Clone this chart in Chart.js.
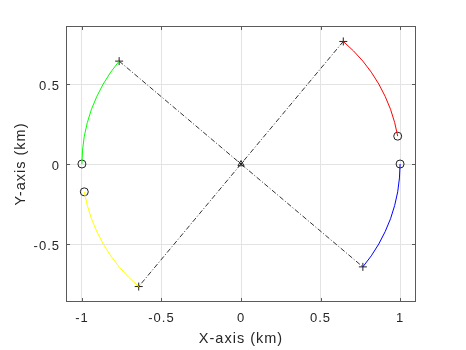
<!DOCTYPE html>
<html>
<head>
<meta charset="utf-8">
<script src="https://cdn.jsdelivr.net/npm/chart.js@4.4.1/dist/chart.umd.min.js"></script>
<style>
html,body{margin:0;padding:0;background:#fff;}
#wrap{width:466px;height:350px;}
</style>
</head>
<body>
<div id="wrap"><canvas id="c" width="466" height="350"></canvas></div>
<script>
// ---- data ----
const xTicks = [-1, -0.5, 0, 0.5, 1];
const yTicks = [-0.5, 0, 0.5];
const xRange = [-1.1, 1.1];
const yRange = [-0.8625, 0.8625];

const redArc = [[0.985,0.174],[0.966,0.259],[0.940,0.342],[0.906,0.423],[0.866,0.500],[0.819,0.574],[0.766,0.643],[0.707,0.707],[0.643,0.766]];
const blueArc = [[1.000,0.000],[0.996,-0.087],[0.985,-0.174],[0.966,-0.259],[0.940,-0.342],[0.906,-0.423],[0.866,-0.500],[0.819,-0.574],[0.766,-0.643]];
const greenArc = [[-1.000,0.000],[-0.996,0.087],[-0.985,0.174],[-0.966,0.259],[-0.940,0.342],[-0.906,0.423],[-0.866,0.500],[-0.819,0.574],[-0.766,0.643]];
const yellowArc = [[-0.985,-0.174],[-0.966,-0.259],[-0.940,-0.342],[-0.906,-0.423],[-0.866,-0.500],[-0.819,-0.574],[-0.766,-0.643],[-0.707,-0.707],[-0.643,-0.766]];
const diagA = [[0.643,0.766],[0,0],[-0.643,-0.766]];
const diagB = [[-0.766,0.643],[0,0],[0.766,-0.643]];
const startPts = [[0.985,0.174],[1.000,0.000],[-1.000,0.000],[-0.985,-0.174]];
const endPts = [[0.643,0.766],[0.766,-0.643],[-0.766,0.643],[-0.643,-0.766]];
const centerPt = [[0,0]];

const toXY = a => a.map(p => ({x:p[0], y:p[1]}));
const FONT = '"Liberation Sans", Arial, Helvetica, sans-serif';
const TXT = '#262626';

const spacingPlugin = {
  id: 'spacing',
  beforeUpdate(chart) { chart.ctx.letterSpacing = '1px'; },
  beforeDraw(chart) { chart.ctx.letterSpacing = '1px'; }
};

const boxPlugin = {
  id: 'box',
  afterDraw(chart) {
    const {ctx, chartArea:{left,right,top,bottom}, scales:{x,y}} = chart;
    ctx.save();
    ctx.strokeStyle = '#5a5a5a';
    ctx.lineWidth = 1;
    const L = Math.round(left)+0.5, R = Math.round(right)-0.5, T = Math.round(top)+0.5, B = Math.round(bottom)-0.5;
    ctx.strokeRect(L, T, R-L, B-T);
    const tl = 3.5;
    ctx.beginPath();
    xTicks.forEach(v => {
      const px = Math.round(x.getPixelForValue(v))+0.5;
      ctx.moveTo(px, B); ctx.lineTo(px, B-tl);
      ctx.moveTo(px, T); ctx.lineTo(px, T+tl);
    });
    yTicks.forEach(v => {
      const py = Math.round(y.getPixelForValue(v))+0.5;
      ctx.moveTo(L, py); ctx.lineTo(L+tl, py);
      ctx.moveTo(R, py); ctx.lineTo(R-tl, py);
    });
    ctx.stroke();
    ctx.restore();
  }
};

const lineDs = (pts, color, dash) => ({
  data: toXY(pts), showLine: true, borderColor: color, borderWidth: 1,
  borderDash: dash || [], pointRadius: 0, fill: false, tension: 0
});
const markDs = (pts, style, r) => ({
  data: toXY(pts), showLine: false, pointStyle: style, pointRadius: r,
  borderColor: '#222', backgroundColor: 'rgba(0,0,0,0)', pointBorderWidth: 1
});

new Chart(document.getElementById('c'), {
  type: 'scatter',
  data: {
    datasets: [
      lineDs(diagA, '#333', [5,2,1,2]),
      lineDs(diagB, '#333', [5,2,1,2]),
      lineDs(redArc, '#ff0000'),
      lineDs(blueArc, '#0000ff'),
      lineDs(greenArc, '#00ff00'),
      lineDs(yellowArc, '#ffff00'),
      markDs(startPts, 'circle', 4),
      markDs(endPts, 'cross', 4),
      markDs(centerPt, 'crossRot', 4),
      markDs(centerPt, 'triangle', 3.5)
    ]
  },
  options: {
    responsive: false,
    devicePixelRatio: 1,
    animation: false,
    layout: { padding: { left: 0, top: 26, right: 50, bottom: 0 } },
    plugins: { legend: { display: false }, tooltip: { enabled: false } },
    scales: {
      x: {
        type: 'linear', min: xRange[0], max: xRange[1],
        afterBuildTicks: s => { s.ticks = xTicks.map(v => ({value: v})); },
        afterFit: s => { s.height = 48; },
        grid: { color: '#e3e3e3', drawTicks: false },
        border: { display: false },
        ticks: { padding: 9, color: TXT, font: { family: FONT, size: 13 }, maxRotation: 0,
                 callback: v => String(v) },
        title: { display: true, text: 'X-axis (km)', color: TXT, font: { family: FONT, size: 14.5 },
                 padding: { top: 0, bottom: 2 } }
      },
      y: {
        type: 'linear', min: yRange[0], max: yRange[1],
        afterBuildTicks: s => { s.ticks = yTicks.map(v => ({value: v})); },
        afterFit: s => { s.width = 66; },
        grid: { color: '#e3e3e3', drawTicks: false },
        border: { display: false },
        ticks: { padding: 6, labelOffset: 2, color: TXT, font: { family: FONT, size: 13 },
                 callback: v => String(v) },
        title: { display: true, text: 'Y-axis (km)', color: TXT, font: { family: FONT, size: 14.5 },
                 padding: { top: 12, bottom: 0 } }
      }
    }
  },
  plugins: [spacingPlugin, boxPlugin]
});
</script>
</body>
</html>
